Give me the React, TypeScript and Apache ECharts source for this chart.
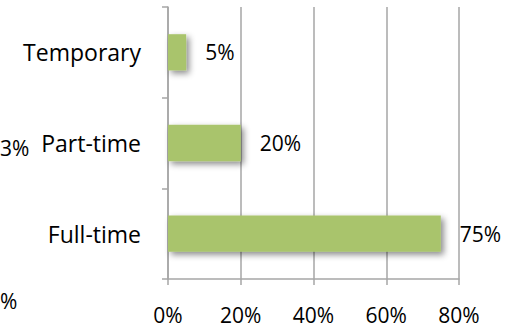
import React, { useEffect, useRef } from "react";
import * as echarts from "echarts";

const categories = ["Full-time", "Part-time", "Temporary"];
const values = [75, 20, 5];
const xTicks = [0, 20, 40, 60, 80];
const fragmentLabels = ["3%", "%"];

const FONT = "'Open Sans', sans-serif";
const FS = 21;
const FS_CAT = 23;

export default function App() {
  const ref = useRef<HTMLDivElement>(null);
  useEffect(() => {
    if (!ref.current) return;
    const chart = echarts.init(ref.current, undefined, { renderer: "svg" });
    chart.setOption({
      animation: false,
      backgroundColor: "#ffffff",
      textStyle: { fontFamily: FONT },
      grid: { left: 168, right: 64, top: 7, bottom: 49, containLabel: false },
      xAxis: {
        type: "value",
        min: xTicks[0],
        max: xTicks[xTicks.length - 1],
        interval: 20,
        axisLine: { show: true, lineStyle: { color: "#a6a6a6", width: 1.5 } },
        axisTick: { show: true, length: 6, lineStyle: { color: "#a6a6a6", width: 1.5 } },
        splitLine: { show: true, lineStyle: { color: "#a6a6a6", width: 1.5 } },
        axisLabel: {
          formatter: "{value}%",
          color: "#000",
          fontSize: FS,
          fontFamily: FONT,
          margin: 25,
        },
      },
      yAxis: {
        type: "category",
        data: categories,
        axisLine: { show: true, lineStyle: { color: "#a6a6a6", width: 1.5 } },
        axisTick: { show: true, length: 6, lineStyle: { color: "#a6a6a6", width: 1.5 } },
        splitLine: { show: false },
        axisLabel: {
          color: "#000",
          fontSize: FS_CAT,
          fontFamily: FONT,
          margin: 27,
        },
      },
      series: [
        {
          type: "bar",
          data: values,
          barWidth: "40%",
          itemStyle: {
            color: "#a9c46c",
            shadowColor: "rgba(0,0,0,0.45)",
            shadowBlur: 6,
            shadowOffsetX: 3,
            shadowOffsetY: 3,
          },
          label: {
            show: true,
            position: "right",
            distance: 19,
            formatter: "{c}%",
            color: "#000",
            fontSize: FS,
            fontFamily: FONT,
          },
        },
      ],
      graphic: [
        {
          type: "text",
          x: 0,
          y: 148,
          style: {
            text: fragmentLabels[0],
            fontSize: FS,
            fontFamily: FONT,
            fill: "#000",
            verticalAlign: "middle",
          },
        },
        {
          type: "text",
          x: 0,
          y: 301,
          style: {
            text: fragmentLabels[1],
            fontSize: FS,
            fontFamily: FONT,
            fill: "#000",
            verticalAlign: "middle",
          },
        },
      ],
    });
    return () => chart.dispose();
  }, []);
  return (
    <div
      ref={ref}
      style={{ position: "absolute", left: 0, top: 0, width: 523, height: 328 }}
    />
  );
}
